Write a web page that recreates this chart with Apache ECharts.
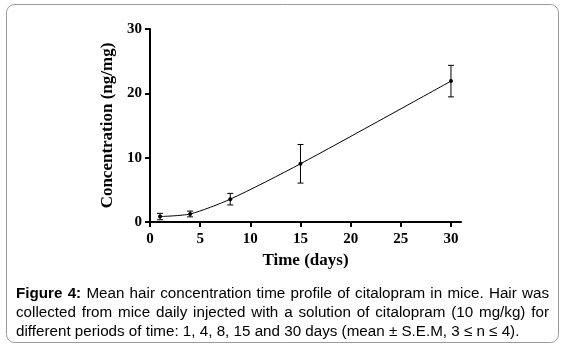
<!DOCTYPE html>
<html>
<head>
<meta charset="utf-8">
<script src="https://cdn.jsdelivr.net/npm/echarts@6/dist/echarts.min.js"></script>
<style>
  html, body { margin: 0; padding: 0; background: #fff; }
  #chart { width: 565px; height: 349px; }
</style>
</head>
<body>
<div id="chart"></div>
<script>
// data
var days = [1, 4, 8, 15, 30];
var meanConc = [0.85, 1.25, 3.55, 9.05, 21.9];
var semConc = [0.5, 0.45, 0.9, 3.0, 2.45];
var xTicks = [0, 5, 10, 15, 20, 25, 30];
var yTicks = [0, 10, 20, 30];
var captionLines = [
    'Figure 4: Mean hair concentration time profile of citalopram in mice. Hair was',
    'collected from mice daily injected with a solution of citalopram (10 mg/kg) for',
    'different periods of time: 1, 4, 8, 15 and 30 days (mean \u00b1 S.E.M, 3 \u2264 n \u2264 4).'
];

var chart = echarts.init(document.getElementById('chart'));

var points = days.map(function (d, i) { return [d, meanConc[i]]; });
var bars = days.map(function (d, i) { return [d, meanConc[i] - semConc[i], meanConc[i] + semConc[i]]; });

var serif = 'Liberation Serif';
var axisFont = { fontFamily: serif, fontWeight: 'bold', fontSize: 15, color: '#000' };

// caption: justified lines (last line left aligned), words measured with canvas
var capFont = 15.2;
var capLeft = 16, capRight = 549;
var ctx = document.createElement('canvas').getContext('2d');
function wordWidth(w, bold) {
    ctx.font = (bold ? 'bold ' : '') + capFont + 'px "Liberation Sans"';
    return ctx.measureText(w).width;
}
var captionGraphics = [{
    type: 'rect',
    shape: { x: 6.5, y: 4.5, width: 552, height: 338, r: 8 },
    style: { fill: 'none', stroke: '#9a9a9a', lineWidth: 1 },
    z: -1
}];
captionLines.forEach(function (line, li) {
    var words = line.split(' ');
    var bolds = words.map(function (w, i) { return li === 0 && i < 2; });
    var widths = words.map(function (w, i) { return wordWidth(w, bolds[i]); });
    var total = widths.reduce(function (a, b) { return a + b; }, 0);
    var gap = li < captionLines.length - 1
        ? (capRight - capLeft - total) / (words.length - 1)
        : wordWidth(' ', false);
    var x = capLeft;
    words.forEach(function (w, i) {
        captionGraphics.push({
            type: 'text',
            x: x,
            y: 294 + li * 18.8,
            style: {
                text: w,
                fontFamily: 'Liberation Sans',
                fontSize: capFont,
                fontWeight: bolds[i] ? 'bold' : 'normal',
                fill: '#000',
                verticalAlign: 'middle'
            }
        });
        x += widths[i] + gap;
    });
});

var option = {
    animation: false,
    backgroundColor: '#fff',
    grid: { left: 150, top: 29, width: 311, height: 193 },
    xAxis: {
        type: 'value',
        min: 0,
        max: 31,
        interval: 1,
        name: 'Time (days)',
        nameLocation: 'middle',
        nameGap: 30,
        nameTextStyle: { fontFamily: serif, fontWeight: 'bold', fontSize: 17, color: '#000' },
        axisLine: { lineStyle: { color: '#000', width: 2 } },
        axisTick: { length: 5, customValues: xTicks, lineStyle: { color: '#000', width: 2 } },
        axisLabel: Object.assign({ customValues: xTicks, margin: 10 }, axisFont),
        splitLine: { show: false }
    },
    yAxis: {
        type: 'value',
        min: 0,
        max: 30,
        interval: 10,
        name: 'Concentration (ng/mg)',
        nameLocation: 'middle',
        nameGap: 33,
        nameTextStyle: { fontFamily: serif, fontWeight: 'bold', fontSize: 17, color: '#000' },
        axisLine: { show: true, lineStyle: { color: '#000', width: 2 } },
        axisTick: { show: true, length: 5, customValues: yTicks, lineStyle: { color: '#000', width: 2 } },
        axisLabel: Object.assign({ margin: 8, customValues: yTicks }, axisFont),
        splitLine: { show: false }
    },
    graphic: captionGraphics,
    series: [
        {
            type: 'line',
            data: points,
            smooth: 0.25,
            symbol: 'circle',
            symbolSize: 4,
            itemStyle: { color: '#000' },
            lineStyle: { color: '#000', width: 1 },
            z: 3
        },
        {
            type: 'custom',
            data: bars,
            renderItem: function (params, api) {
                var top = api.coord([api.value(0), api.value(2)]);
                var bot = api.coord([api.value(0), api.value(1)]);
                var cap = 3;
                var st = { stroke: '#000', lineWidth: 1 };
                return {
                    type: 'group',
                    children: [
                        { type: 'line', shape: { x1: top[0], y1: top[1], x2: bot[0], y2: bot[1] }, style: st },
                        { type: 'line', shape: { x1: top[0] - cap, y1: top[1], x2: top[0] + cap, y2: top[1] }, style: st },
                        { type: 'line', shape: { x1: bot[0] - cap, y1: bot[1], x2: bot[0] + cap, y2: bot[1] }, style: st }
                    ]
                };
            },
            z: 2
        }
    ]
};

chart.setOption(option);
</script>
</body>
</html>
